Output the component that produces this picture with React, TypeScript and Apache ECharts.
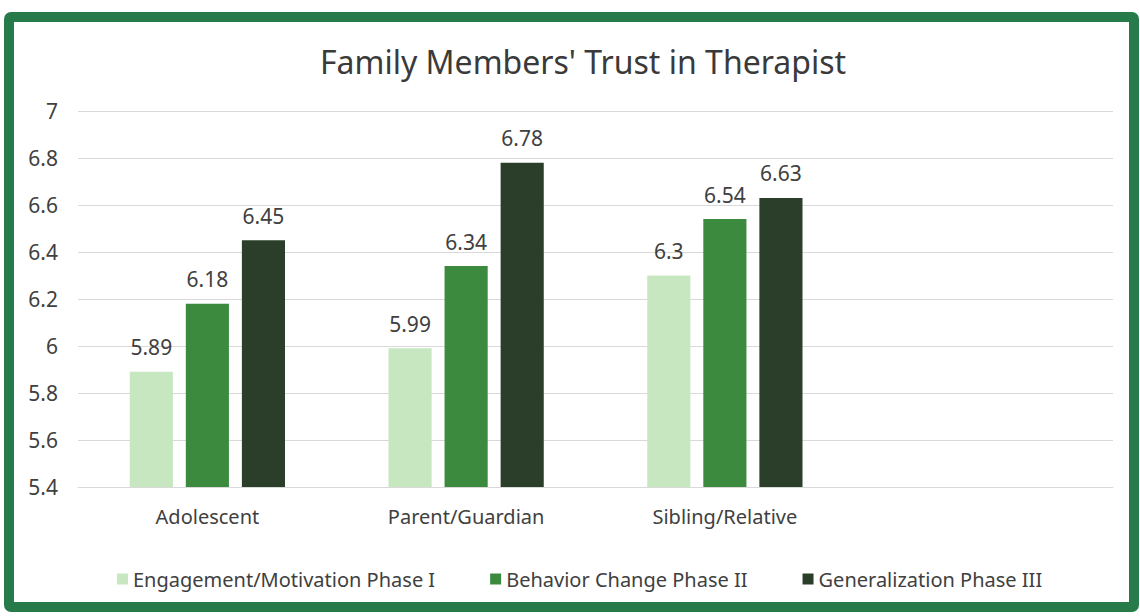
import React, { useEffect, useRef } from "react";
import * as echarts from "echarts";

const title = "Family Members' Trust in Therapist";
const categories = ["Adolescent", "Parent/Guardian", "Sibling/Relative", ""];
const seriesNames = [
  "Engagement/Motivation Phase I",
  "Behavior Change Phase II",
  "Generalization Phase III",
];
const phase1 = [5.89, 5.99, 6.3, null];
const phase2 = [6.18, 6.34, 6.54, null];
const phase3 = [6.45, 6.78, 6.63, null];
const colors = ["#c6e7c0", "#3b8a3e", "#2b3e2a"];
const yMin = 5.4;
const yMax = 7;
const yStep = 0.2;

const FONT = "'Noto Sans', 'Open Sans', sans-serif";

export default function App() {
  const ref = useRef<HTMLDivElement>(null);
  useEffect(() => {
    if (!ref.current) return;
    const chart = echarts.init(ref.current, null, { renderer: "svg" });
    const data = [phase1, phase2, phase3];
    chart.setOption({
      animation: false,
      backgroundColor: "#ffffff",
      textStyle: { fontFamily: FONT },
      title: {
        text: title,
        left: 578,
        textAlign: "center",
        top: 40,
        textStyle: { fontFamily: FONT, fontSize: 32, fontWeight: "normal", color: "#3a3a3a" },
      },
      graphic: [
        {
          type: "rect",
          shape: { x: 9, y: 17, width: 1125, height: 590, r: 2 },
          style: { fill: "none", stroke: "#277b4b", lineWidth: 10 },
          z: 100,
        },
      ],
      legend: {
        data: seriesNames,
        left: 112,
        top: 564,
        icon: "rect",
        itemWidth: 11,
        itemHeight: 11,
        itemGap: 55,
        textStyle: { fontFamily: FONT, fontSize: 20, color: "#404040" },
      },
      grid: { left: 78, right: 27, top: 111, height: 376, containLabel: false },
      xAxis: {
        type: "category",
        data: categories,
        axisTick: { show: false },
        axisLine: { lineStyle: { color: "#d9d9d9" } },
        axisLabel: { fontFamily: FONT, fontSize: 20, color: "#404040", margin: 19 },
      },
      yAxis: {
        type: "value",
        min: yMin,
        max: yMax,
        interval: yStep,
        axisLine: { show: false },
        axisTick: { show: false },
        splitLine: { lineStyle: { color: "#d9d9d9" } },
        axisLabel: {
          fontFamily: FONT,
          fontSize: 21,
          color: "#404040",
          margin: 20,
          formatter: (v: number) => String(parseFloat(v.toFixed(1))),
        },
      },
      series: seriesNames.map((name, i) => ({
        name,
        type: "bar",
        data: data[i],
        barGap: "30%",
        barCategoryGap: "40%",
        itemStyle: { color: colors[i] },
        label: {
          show: true,
          position: "top",
          distance: 14,
          fontFamily: FONT,
          fontSize: 21,
          color: "#404040",
        },
      })),
    });
    return () => chart.dispose();
  }, []);
  return (
    <div
      ref={ref}
      style={{ position: "fixed", left: 0, top: 0, width: 1140, height: 616 }}
    />
  );
}
